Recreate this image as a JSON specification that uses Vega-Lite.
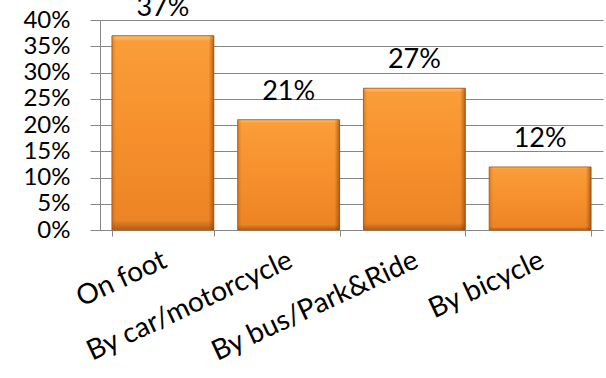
{
  "$schema": "https://vega.github.io/schema/vega-lite/v6.json",
  "width": 503,
  "height": 210,
  "autosize": {"type": "none"},
  "padding": {"left": 100, "top": 20, "right": 3, "bottom": 148},
  "background": "white",
  "data": {"values": [
    {"mode": "On foot", "share": 0.37, "label": "37%"},
    {"mode": "By car/motorcycle", "share": 0.21, "label": "21%"},
    {"mode": "By bus/Park&Ride", "share": 0.27, "label": "27%"},
    {"mode": "By bicycle", "share": 0.12, "label": "12%"}
  ]},
  "config": {
    "view": {"stroke": null},
    "font": "Lato",
    "axis": {"labelFont": "Lato", "labelColor": "#000", "domainColor": "#868686", "tickColor": "#868686", "gridColor": "#868686"}
  },
  "encoding": {
    "x": {"field": "mode", "type": "nominal", "sort": null,
      "scale": {"paddingInner": 0.19, "paddingOuter": 0.095},
      "axis": {"title": null, "labelFontSize": 28, "labelAngle": -25, "labelAlign": "right", "labelBaseline": "top", "labelPadding": 10, "labelOffset": -4, "tickBand": "extent", "tickSize": 6, "labelLimit": 400}},
    "y": {"field": "share", "type": "quantitative",
      "scale": {"domain": [0, 0.4]},
      "axis": {"title": null, "labelFontSize": 24, "format": ".0%", "values": [0,0.05,0.1,0.15,0.2,0.25,0.3,0.35,0.4], "tickSize": 10, "labelPadding": 20, "grid": true, "domain": true}}
  },
  "layer": [
    {"mark": {"type": "bar", "stroke": "#B8601A", "strokeWidth": 1,
      "color": {"gradient": "linear", "x1": 0, "y1": 0, "x2": 0, "y2": 1,
        "stops": [{"offset": 0, "color": "#FDC470"}, {"offset": 0.03, "color": "#FA9D38"}, {"offset": 0.5, "color": "#F6902C"}, {"offset": 0.95, "color": "#EC8425"}, {"offset": 1, "color": "#B05C18"}]}}},
    {"mark": {"type": "bar",
      "color": {"gradient": "linear", "x1": 0, "y1": 0, "x2": 1, "y2": 0,
        "stops": [{"offset": 0, "color": "rgba(160,80,10,0.35)"}, {"offset": 0.04, "color": "rgba(160,80,10,0)"}, {"offset": 0.95, "color": "rgba(120,55,5,0)"}, {"offset": 1, "color": "rgba(120,55,5,0.55)"}]}}},
    {"mark": {"type": "text", "baseline": "alphabetic", "dy": -20, "fontSize": 27, "font": "Lato", "color": "#000"},
      "encoding": {"text": {"field": "label"}}}
  ]
}
